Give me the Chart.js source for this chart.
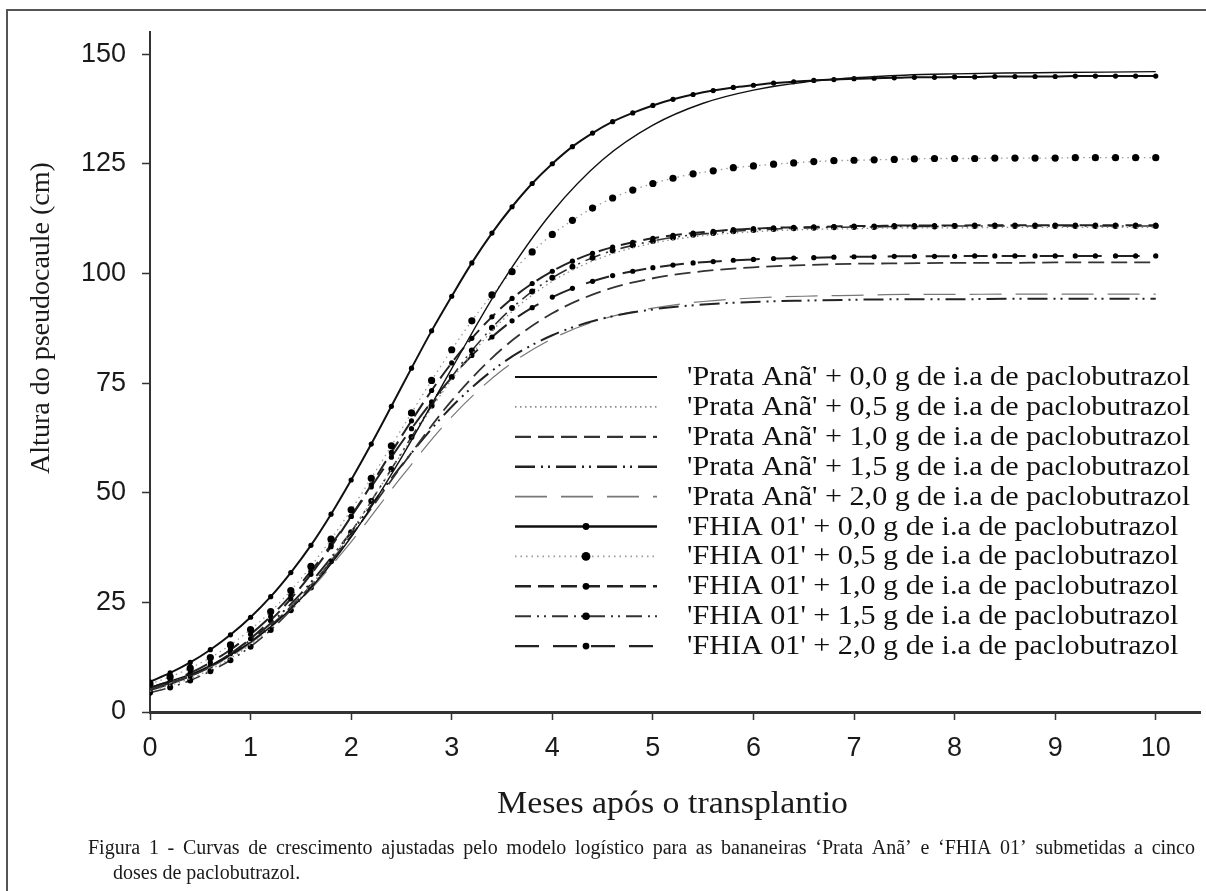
<!DOCTYPE html>
<html>
<head>
<meta charset="utf-8">
<script src="https://cdn.jsdelivr.net/npm/chart.js@4.4.1/dist/chart.umd.min.js"></script>
<style>
  html, body { margin: 0; padding: 0; background: #fff; }
  canvas { display: block; }
</style>
</head>
<body>
<canvas id="chart" width="1206" height="891"></canvas>
<script>
// meses (x) - pontos de 0,2 em 0,2 (FHIA, com marcadores) e de 0,5 em 0,5 (Prata)
const monthsFine = [0, 0.2, 0.4, 0.6, 0.8, 1, 1.2, 1.4, 1.6, 1.8, 2, 2.2, 2.4, 2.6, 2.8, 3, 3.2, 3.4, 3.6, 3.8,
    4, 4.2, 4.4, 4.6, 4.8, 5, 5.2, 5.4, 5.6, 5.8, 6, 6.2, 6.4, 6.6, 6.8, 7, 7.2, 7.4, 7.6, 7.8,
    8, 8.2, 8.4, 8.6, 8.8, 9, 9.2, 9.4, 9.6, 9.8, 10];
const monthsCoarse = [0, 0.5, 1, 1.5, 2, 2.5, 3, 3.5, 4, 4.5, 5, 5.5, 6, 6.5, 7, 7.5, 8, 8.5, 9, 9.5, 10];

// altura do pseudocaule (cm)
const prata00 = [5.6, 9.5, 15.9, 25.8, 39.9, 58.0, 78.3, 97.9, 114.0, 125.9, 133.8, 138.8, 141.8, 143.6, 144.6, 145.2, 145.5, 145.7, 145.8, 145.9, 146.0];
const prata05 = [4.7, 8.6, 15.4, 26.2, 41.2, 58.8, 75.8, 89.2, 98.2, 103.7, 106.9, 108.6, 109.5, 110.0, 110.2, 110.4, 110.4, 110.5, 110.5, 110.5, 110.5];
const prata10 = [5.2, 9.2, 16.0, 26.3, 40.2, 56.0, 71.0, 82.8, 90.9, 96.0, 98.9, 100.5, 101.4, 101.9, 102.2, 102.3, 102.4, 102.4, 102.5, 102.5, 102.5];
const prata15 = [5.1, 9.3, 16.4, 27.0, 41.0, 56.2, 69.6, 79.5, 85.9, 89.7, 91.8, 92.9, 93.5, 93.8, 94.0, 94.1, 94.1, 94.2, 94.2, 94.2, 94.2];
const prata20 = [5.1, 9.1, 15.7, 25.6, 38.8, 53.6, 67.3, 77.9, 85.1, 89.6, 92.1, 93.6, 94.4, 94.8, 95.0, 95.2, 95.2, 95.3, 95.3, 95.3, 95.3];

const fhia00 = [6.9, 8.9, 11.3, 14.2, 17.6, 21.6, 26.3, 31.8, 38.0, 45.1,
    52.9, 61.1, 69.7, 78.4, 86.9, 94.8, 102.4, 109.2, 115.2, 120.5,
    125.0, 128.9, 132.0, 134.6, 136.6, 138.3, 139.7, 140.8, 141.7, 142.4,
    142.9, 143.4, 143.7, 144.0, 144.2, 144.4, 144.5, 144.6, 144.7, 144.7,
    144.8, 144.8, 144.9, 144.9, 144.9, 144.9, 145.0, 145.0, 145.0, 145.0, 145.0];
const fhia05 = [6.4, 8.0, 10.0, 12.4, 15.3, 18.8, 22.9, 27.7, 33.2, 39.4,
    46.1, 53.3, 60.7, 68.2, 75.6, 82.6, 89.2, 95.1, 100.4, 104.9,
    108.9, 112.1, 114.9, 117.2, 119.0, 120.5, 121.7, 122.7, 123.4, 124.1,
    124.5, 124.9, 125.2, 125.5, 125.7, 125.8, 125.9, 126.0, 126.1, 126.2,
    126.2, 126.2, 126.3, 126.3, 126.3, 126.3, 126.4, 126.4, 126.4, 126.4, 126.4];
const fhia10 = [5.0, 6.4, 8.2, 10.5, 13.3, 16.7, 20.9, 25.8, 31.4, 37.7,
    44.6, 51.8, 59.2, 66.4, 73.3, 79.6, 85.2, 90.1, 94.3, 97.7,
    100.5, 102.8, 104.6, 106.0, 107.1, 108.0, 108.7, 109.2, 109.6, 110.0,
    110.2, 110.4, 110.5, 110.6, 110.7, 110.8, 110.8, 110.9, 110.9, 110.9,
    110.9, 111.0, 111.0, 111.0, 111.0, 111.0, 111.0, 111.0, 111.0, 111.0, 111.0];
const fhia15 = [4.4, 5.6, 7.2, 9.3, 11.8, 14.9, 18.7, 23.2, 28.4, 34.4,
    41.0, 48.1, 55.4, 62.7, 69.8, 76.4, 82.4, 87.6, 92.1, 95.9,
    99.0, 101.5, 103.6, 105.2, 106.4, 107.4, 108.2, 108.8, 109.2, 109.6,
    109.9, 110.1, 110.3, 110.4, 110.5, 110.6, 110.6, 110.7, 110.7, 110.7,
    110.8, 110.8, 110.8, 110.8, 110.8, 110.8, 110.8, 110.8, 110.8, 110.8, 110.8];
const fhia20 = [5.5, 7.0, 8.9, 11.3, 14.2, 17.7, 21.8, 26.6, 32.1, 38.1,
    44.6, 51.3, 58.1, 64.6, 70.7, 76.3, 81.3, 85.5, 89.2, 92.2,
    94.6, 96.6, 98.2, 99.5, 100.5, 101.3, 101.9, 102.4, 102.7, 103.0,
    103.2, 103.4, 103.5, 103.6, 103.7, 103.8, 103.8, 103.9, 103.9, 103.9,
    103.9, 104.0, 104.0, 104.0, 104.0, 104.0, 104.0, 104.0, 104.0, 104.0, 104.0];

const seriesLabels = [
    "'Prata Anã' + 0,0 g de i.a de paclobutrazol",
    "'Prata Anã' + 0,5 g de i.a de paclobutrazol",
    "'Prata Anã' + 1,0 g de i.a de paclobutrazol",
    "'Prata Anã' + 1,5 g de i.a de paclobutrazol",
    "'Prata Anã' + 2,0 g de i.a de paclobutrazol",
    "'FHIA 01' + 0,0 g de i.a de paclobutrazol",
    "'FHIA 01' + 0,5 g de i.a de paclobutrazol",
    "'FHIA 01' + 1,0 g de i.a de paclobutrazol",
    "'FHIA 01' + 1,5 g de i.a de paclobutrazol",
    "'FHIA 01' + 2,0 g de i.a de paclobutrazol"
];
const xTickValues = [0, 1, 2, 3, 4, 5, 6, 7, 8, 9, 10];
const yTickValues = [0, 25, 50, 75, 100, 125, 150];

const xTitle = "Meses após o transplantio";
const yTitle = "Altura do pseudocaule (cm)";
const captionLine1 = "Figura 1 - Curvas de crescimento ajustadas pelo modelo logístico para as bananeiras ‘Prata Anã’ e ‘FHIA 01’ submetidas a cinco";
const captionLine2 = "doses de paclobutrazol.";

const SERIF = '"Liberation Serif", "Times New Roman", serif';
const SANS = '"Liberation Sans", Arial, sans-serif';

function pairs(xs, ys) {
    return ys.map((y, i) => ({ x: xs[i], y: y }));
}

// estilos de linha (preto e branco como no original)
const styles = [
    { color: '#111', width: 1.4, dash: [] },
    { color: '#8a8a8a', width: 1.3, dash: [1.5, 3.5] },
    { color: '#333', width: 1.8, dash: [16, 7] },
    { color: '#222', width: 2, dash: [20, 6, 2, 5, 2, 6] },
    { color: '#777', width: 1.2, dash: [32, 14] },
    { color: '#111', width: 2, dash: [], point: 2.6 },
    { color: '#9a9a9a', width: 1.3, dash: [1.5, 4], point: 3.6 },
    { color: '#222', width: 2, dash: [16, 7], point: 2.6 },
    { color: '#333', width: 1.6, dash: [16, 6, 2, 5, 2, 6], point: 3 },
    { color: '#222', width: 2, dash: [24, 14], point: 2.6 }
];

const seriesData = [
    pairs(monthsCoarse, prata00), pairs(monthsCoarse, prata05), pairs(monthsCoarse, prata10),
    pairs(monthsCoarse, prata15), pairs(monthsCoarse, prata20),
    pairs(monthsFine, fhia00), pairs(monthsFine, fhia05), pairs(monthsFine, fhia10),
    pairs(monthsFine, fhia15), pairs(monthsFine, fhia20)
];

const datasets = seriesData.map((d, i) => {
    const s = styles[i];
    return {
        label: seriesLabels[i],
        data: d,
        borderColor: s.color,
        borderWidth: s.width,
        borderDash: s.dash,
        pointRadius: s.point || 0,
        pointBackgroundColor: '#000',
        pointBorderColor: '#000',
        pointBorderWidth: 0,
        cubicInterpolationMode: 'monotone',
        fill: false
    };
});

// texto esticado na horizontal (a figura original e um pouco mais larga que alta)
function wideText(ctx, text, x, y, width) {
    const w = ctx.measureText(text).width;
    ctx.save();
    ctx.translate(x, y);
    ctx.scale(width / w, 1);
    ctx.fillText(text, 0, 0);
    ctx.restore();
}

// moldura, titulos, legenda e legenda da figura
const decorations = {
    id: 'decorations',
    beforeDraw(chart) {
        const ctx = chart.ctx;
        ctx.save();
        ctx.fillStyle = '#fff';
        ctx.fillRect(0, 0, chart.width, chart.height);
        ctx.restore();
    },
    afterDraw(chart) {
        const ctx = chart.ctx;
        ctx.save();

        // moldura
        ctx.strokeStyle = '#555';
        ctx.lineWidth = 2;
        ctx.beginPath();
        ctx.moveTo(7, 891);
        ctx.lineTo(7, 10);
        ctx.lineTo(1206, 10);
        ctx.stroke();

        // titulo do eixo y
        ctx.fillStyle = '#1a1a1a';
        ctx.font = '28px ' + SERIF;
        ctx.textAlign = 'center';
        ctx.textBaseline = 'middle';
        ctx.save();
        ctx.translate(42, 318);
        ctx.rotate(-Math.PI / 2);
        ctx.fillText(yTitle, 0, 0);
        ctx.restore();

        // titulo do eixo x
        ctx.textAlign = 'left';
        ctx.font = '31px ' + SERIF;
        wideText(ctx, xTitle, 497, 805, 351);

        // legenda
        const lx0 = 515, lx1 = 657, ly0 = 377, dy = 29.9;
        ctx.font = '27px ' + SERIF;
        const sx = 503 / ctx.measureText(seriesLabels[0]).width;
        chart.data.datasets.forEach((ds, i) => {
            const y = ly0 + i * dy;
            ctx.save();
            ctx.strokeStyle = ds.borderColor;
            ctx.lineWidth = ds.borderWidth + 0.4;
            ctx.setLineDash(ds.borderDash);
            ctx.beginPath();
            ctx.moveTo(lx0, y);
            ctx.lineTo(lx1, y);
            ctx.stroke();
            ctx.restore();
            if (ds.pointRadius > 0) {
                ctx.fillStyle = '#000';
                ctx.beginPath();
                ctx.arc(586, y, ds.pointRadius + 0.8, 0, Math.PI * 2);
                ctx.fill();
            }
            ctx.fillStyle = '#111';
            ctx.font = '27px ' + SERIF;
            ctx.textAlign = 'left';
            ctx.textBaseline = 'middle';
            const w = ctx.measureText(ds.label).width;
            wideText(ctx, ds.label, 687, y + 1, w * sx);
        });

        // legenda da figura (justificada)
        ctx.fillStyle = '#1a1a1a';
        ctx.font = '20px ' + SERIF;
        ctx.textAlign = 'left';
        ctx.textBaseline = 'middle';
        const words = captionLine1.split(' ');
        const left = 88, right = 1195;
        const total = words.reduce((a, w) => a + ctx.measureText(w).width, 0);
        const gap = (right - left - total) / (words.length - 1);
        let x = left;
        words.forEach(w => {
            ctx.fillText(w, x, 849);
            x += ctx.measureText(w).width + gap;
        });
        ctx.fillText(captionLine2, 113, 874);

        ctx.restore();
    }
};

const ctx = document.getElementById('chart').getContext('2d');
const chart = new Chart(ctx, {
    type: 'line',
    data: { datasets: datasets },
    options: {
        responsive: false,
        animation: false,
        devicePixelRatio: 1,
        layout: { padding: { left: 0, top: 27, right: 6, bottom: 119 } },
        plugins: { legend: { display: false }, tooltip: { enabled: false } },
        scales: {
            x: {
                type: 'linear',
                min: 0,
                max: 10.44,
                afterFit(scale) { scale.height = 60; },
                afterBuildTicks(scale) { scale.ticks = xTickValues.map(v => ({ value: v })); },
                grid: { drawOnChartArea: false, tickLength: 8, tickWidth: 1.5, tickColor: '#333' },
                border: { color: '#333', width: 3 },
                ticks: { color: '#1a1a1a', font: { family: SANS, size: 27 }, padding: 12, maxRotation: 0 }
            },
            y: {
                type: 'linear',
                min: 0,
                max: 155,
                afterFit(scale) { scale.width = 150; },
                afterBuildTicks(scale) { scale.ticks = yTickValues.map(v => ({ value: v })); },
                grid: { drawOnChartArea: false, tickLength: 8, tickWidth: 1.5, tickColor: '#333' },
                border: { color: '#333', width: 2 },
                ticks: { color: '#1a1a1a', font: { family: SANS, size: 27 }, padding: 16 }
            }
        }
    },
    plugins: [decorations]
});
</script>
</body>
</html>
